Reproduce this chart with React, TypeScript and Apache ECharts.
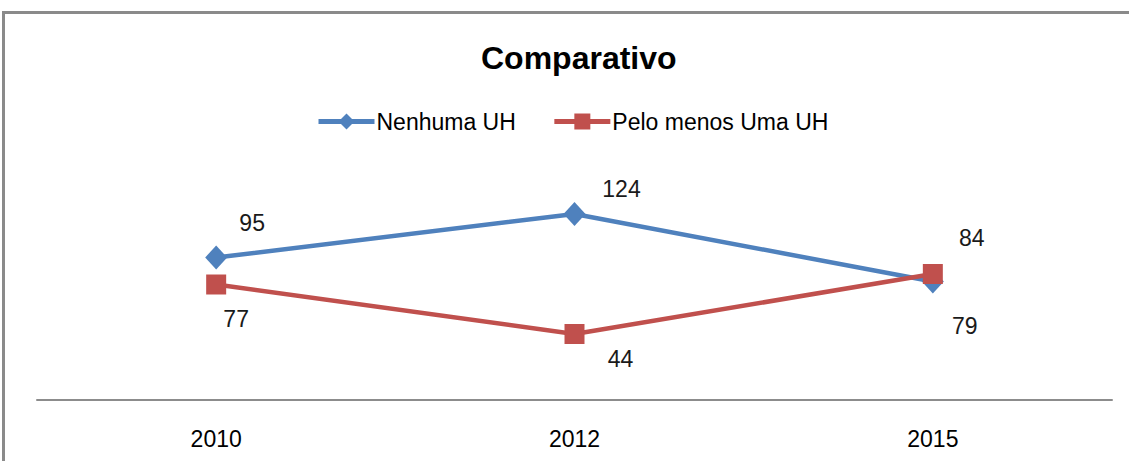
import React, { useEffect, useRef } from "react";
import * as echarts from "echarts";

const categories = ["2010", "2012", "2015"];
const seriesNames = ["Nenhuma UH", "Pelo menos Uma UH"];
const nenhumaValues = [95, 124, 79];
const peloMenosValues = [77, 44, 84];
const titleText = "Comparativo";

// label offsets (style only)
const nenhumaLabelOffsets = [[36, -35], [47, -25], [32, 44]];
const peloLabelOffsets = [[20, 34], [46, 25], [39, -36]];

const FONT = "'Liberation Sans', Arial, sans-serif";
const BLUE = "#4F81BD";
const RED = "#C0504D";

export default function App() {
  const ref = useRef<HTMLDivElement>(null);
  useEffect(() => {
    if (!ref.current) return;
    const chart = echarts.init(ref.current, null, { renderer: "svg" });
    const mkData = (vals: number[], offs: number[][]) =>
      vals.map((v, i) => ({
        value: v,
        label: { offset: offs[i] },
      }));
    chart.setOption({
      animation: false,
      backgroundColor: "#ffffff",
      title: {
        text: titleText,
        left: 476,
        top: 37,
        textStyle: { fontFamily: FONT, fontSize: 32, fontWeight: "bold", color: "#000" },
      },
      legend: {
        data: [
          { name: seriesNames[0], lineStyle: { width: 5 } },
          { name: seriesNames[1], lineStyle: { width: 5 } },
        ],
        left: 316,
        top: 110,
        padding: 0,
        itemWidth: 56,
        itemHeight: 20,
        itemGap: 36,
        textStyle: { fontFamily: FONT, fontSize: 23, color: "#000", padding: [0, 0, 0, -3] },
      },
      grid: { left: 37, right: 17, top: 190, height: 210 },
      xAxis: {
        type: "category",
        data: categories,
        boundaryGap: true,
        axisLine: { lineStyle: { color: "#8c8c8c", width: 2 } },
        axisTick: { show: false },
        axisLabel: { fontFamily: FONT, fontSize: 23, color: "#000", margin: 27 },
      },
      yAxis: {
        type: "value",
        min: 0,
        max: 140,
        show: false,
        splitLine: { show: false },
      },
      series: [
        {
          name: seriesNames[0],
          type: "line",
          data: mkData(nenhumaValues, nenhumaLabelOffsets),
          symbol: "diamond",
          symbolSize: [22, 24],
          lineStyle: { color: BLUE, width: 4.5 },
          itemStyle: { color: BLUE },
          label: {
            show: true,
            position: "inside",
            align: "center",
            verticalAlign: "middle",
            fontFamily: FONT,
            fontSize: 23,
            color: "#1a1a1a",
          },
          z: 2,
        },
        {
          name: seriesNames[1],
          type: "line",
          data: mkData(peloMenosValues, peloLabelOffsets),
          symbol: "rect",
          symbolSize: 20,
          lineStyle: { color: RED, width: 4.5 },
          itemStyle: { color: RED },
          label: {
            show: true,
            position: "inside",
            align: "center",
            verticalAlign: "middle",
            fontFamily: FONT,
            fontSize: 23,
            color: "#1a1a1a",
          },
          z: 3,
        },
      ],
      graphic: [
        {
          type: "rect",
          shape: { x: 3.5, y: 12.5, width: 1300, height: 600 },
          style: { fill: "none", stroke: "#8a8a8a", lineWidth: 3 },
          silent: true,
        },
      ],
    });
    return () => chart.dispose();
  }, []);
  return (
    <div
      ref={ref}
      style={{ position: "absolute", left: 0, top: 0, width: 1129, height: 461 }}
    />
  );
}
